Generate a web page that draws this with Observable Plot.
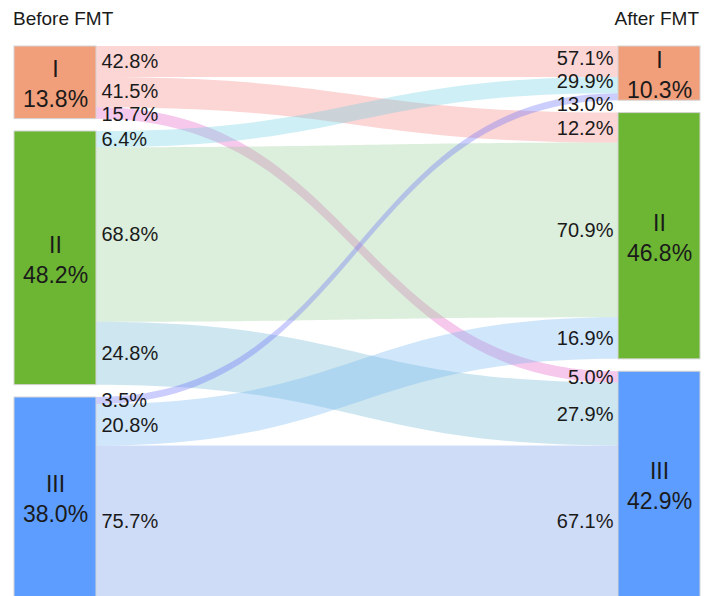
<!DOCTYPE html>
<html>
<head>
<meta charset="utf-8">
<script src="https://cdn.jsdelivr.net/npm/d3@7"></script>
<script src="https://cdn.jsdelivr.net/npm/@observablehq/plot@0.6"></script>
<style>
  html, body { margin: 0; padding: 0; background: #fff; }
  #wrap { width: 704px; font-family: "Liberation Sans", Arial, sans-serif; color: #1a1a1a; }
  #titles { display: flex; justify-content: space-between; height: 38px; line-height: 38px; font-size: 19px; padding: 0 5px 0 13px; }
</style>
</head>
<body>
<div id="wrap">
  <div id="titles"><span id="tl"></span><span id="tr"></span></div>
  <div id="chart"></div>
</div>
<script>
// ---- data ----
const nodeNames = ["I", "II", "III"];
const beforeShare = [13.8, 48.2, 38.0];            // % of patients before FMT
const afterShare = [10.3, 46.8, 42.9];             // % of patients after FMT
// outPct[i][j]: % of "before i" moving to "after j"
const outPct = [[42.8, 41.5, 15.7], [6.4, 68.8, 24.8], [3.5, 20.8, 75.7]];
// inPct[j][i]: % of "after j" coming from "before i"
const inPct = [[57.1, 29.9, 13.0], [12.2, 70.9, 16.9], [5.0, 27.9, 67.1]];
const titles = ["Before FMT", "After FMT"];
const nodeColors = ["#F19E7B", "#6CB634", "#5C9DFF"];
const linkColors = [
  ["#F68787", "#F68787", "#E562C9"],
  ["#70D1E2", "#9BCE9B", "#70B8D4"],
  ["#6A70F9", "#79B8F1", "#769BEB"]
];

// ---- layout (in data units) ----
const GAP = 2.35, NODE_W = 0.1571, MIN_SEP = 4.3;
function stackStarts(shares) { let acc = 0; return shares.map(s => { const st = acc; acc += s + GAP; return st; }); }
const leftStart = stackStarts(beforeShare);
const rightStart = stackStarts(afterShare);
const total = Math.max(d3.sum(beforeShare), d3.sum(afterShare)) + GAP * (nodeNames.length - 1);

const areaRows = [], leftLabels = [], rightLabels = [];
nodeNames.forEach((_, i) => {
  nodeNames.forEach((__, j) => {
    const lOff = d3.sum(outPct[i].slice(0, j)) * beforeShare[i] / 100;
    const lw = outPct[i][j] * beforeShare[i] / 100;
    const rOff = d3.sum(inPct[j].slice(0, i)) * afterShare[j] / 100;
    const rw = inPct[j][i] * afterShare[j] / 100;
    const ly1 = leftStart[i] + lOff, ry1 = rightStart[j] + rOff;
    const id = i + "-" + j, color = linkColors[i][j];
    areaRows.push({id, x: 0, y1: ly1, y2: ly1 + lw, color});
    areaRows.push({id, x: 1, y1: ry1, y2: ry1 + rw, color});
    leftLabels.push({y: ly1 + lw / 2, text: outPct[i][j].toFixed(1) + "%"});
    rightLabels.push({y: ry1 + rw / 2, text: inPct[j][i].toFixed(1) + "%"});
  });
});
// group labels that collide and spread each group evenly around its mean
function dodge(labels) {
  labels.sort((a, b) => a.y - b.y);
  let groups = labels.map(l => ({items: [l], mean: l.y}));
  let changed = true;
  while (changed) {
    changed = false;
    for (let k = 1; k < groups.length; k++) {
      const a = groups[k - 1], b = groups[k];
      const aEnd = a.mean + (a.items.length - 1) * MIN_SEP / 2;
      const bStart = b.mean - (b.items.length - 1) * MIN_SEP / 2;
      if (bStart - aEnd < MIN_SEP) {
        const items = a.items.concat(b.items);
        groups.splice(k - 1, 2, {items, mean: d3.mean(items, d => d.y)});
        changed = true;
        break;
      }
    }
  }
  groups.forEach(g => g.items.forEach((l, n) => { l.y = g.mean + (n - (g.items.length - 1) / 2) * MIN_SEP; }));
  return labels;
}
dodge(leftLabels); dodge(rightLabels);

const nodeRows = [];
nodeNames.forEach((name, i) => {
  nodeRows.push({x1: -NODE_W, x2: 0, y1: leftStart[i], y2: leftStart[i] + beforeShare[i], fill: nodeColors[i],
    label: name + "\n" + beforeShare[i].toFixed(1) + "%"});
  nodeRows.push({x1: 1, x2: 1 + NODE_W, y1: rightStart[i], y2: rightStart[i] + afterShare[i], fill: nodeColors[i],
    label: name + "\n" + afterShare[i].toFixed(1) + "%"});
});

document.getElementById("tl").textContent = titles[0];
document.getElementById("tr").textContent = titles[1];

const H = 558;
const chart = Plot.plot({
  width: 704,
  height: H,
  marginLeft: 96,
  marginRight: 86,
  marginTop: 8,
  marginBottom: 0,
  style: {fontFamily: '"Liberation Sans", Arial, sans-serif', background: "#fff", overflow: "visible"},
  x: {domain: [0, 1], axis: null},
  y: {domain: [0, total], range: [8, H + 1], axis: null},
  marks: [
    Plot.area(areaRows, {x1: "x", y1: "y1", y2: "y2", z: "id", fill: "color", fillOpacity: 0.35, curve: "bump-x"}),
    Plot.rect(nodeRows, {x1: "x1", x2: "x2", y1: "y1", y2: "y2", fill: "fill", stroke: "#d4d4d4", strokeWidth: 1}),
    Plot.text(nodeRows, {x: d => (d.x1 + d.x2) / 2, y: d => (d.y1 + d.y2) / 2, text: "label",
      fontSize: 23, lineHeight: 1.3, fill: "#1a1a1a"}),
    Plot.text(leftLabels, {x: () => 0, y: "y", text: "text", textAnchor: "start", dx: 5, fontSize: 20, fill: "#1a1a1a"}),
    Plot.text(rightLabels, {x: () => 1, y: "y", text: "text", textAnchor: "end", dx: -5, fontSize: 20, fill: "#1a1a1a"})
  ]
});
document.getElementById("chart").appendChild(chart);
</script>
</body>
</html>
